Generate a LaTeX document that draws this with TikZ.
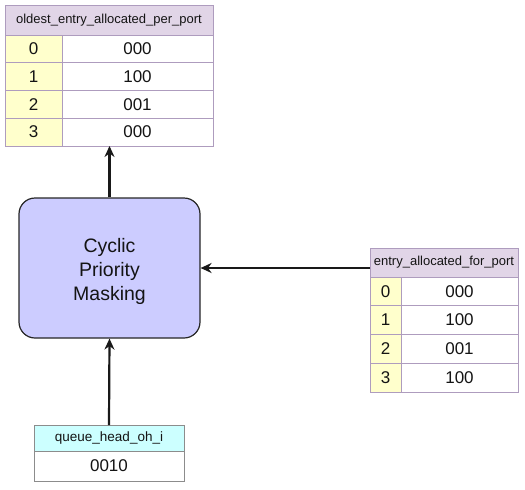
\documentclass[tikz,border=0pt]{standalone}
\usepackage{fontspec}
\setmainfont{Liberation Sans}
\usetikzlibrary{arrows.meta}
\definecolor{hdrpurple}{HTML}{E1D5E7}
\definecolor{brdpurple}{HTML}{AE9CBE}
\definecolor{idxyellow}{HTML}{FFFFCC}
\definecolor{hdrcyan}{HTML}{CCFFFF}
\definecolor{brdgrey}{HTML}{8C8C8C}
\definecolor{boxblue}{HTML}{CCCCFF}
\definecolor{txt}{HTML}{141414}
\begin{document}
\begin{tikzpicture}[x=1pt,y=-1pt,
  cellbase/.style={inner sep=0pt, outer sep=0pt, anchor=north west, text=txt, line width=1pt},
  hdr/.style={cellbase, draw=brdpurple, fill=hdrpurple, font=\fontsize{13}{15}\selectfont},
  idx/.style={cellbase, draw=brdpurple, fill=idxyellow, font=\fontsize{17}{20}\selectfont},
  val/.style={cellbase, draw=brdpurple, fill=white, font=\fontsize{17}{20}\selectfont},
  qhdr/.style={cellbase, draw=brdgrey, fill=hdrcyan, font=\fontsize{13.5}{15}\selectfont},
  qval/.style={cellbase, draw=brdgrey, fill=white, font=\fontsize{17}{20}\selectfont},
  procbox/.style={draw=black!85, fill=boxblue, line width=1.2pt, rounded corners=16pt, align=center, text=txt, font=\fontsize{19.5}{24}\selectfont, inner sep=0pt},
  arr/.style={line width=2.2pt, draw=black!90, -{Stealth[length=11pt,width=10pt]}}
]
\useasboundingbox (0,0) rectangle (525,490);
% top table
\node[hdr, minimum width=208pt, minimum height=30pt] (t1h) at (5,5) {oldest\_entry\_allocated\_per\_port};
\foreach \i/\v in {0/000,1/100,2/001,3/000}{
  \node[idx, minimum width=57pt, minimum height=27.75pt] (t1i\i) at (5,{35+27.75*\i}) {\i};
  \node[val, minimum width=151pt, minimum height=27.75pt] (t1v\i) at (62,{35+27.75*\i}) {\v};
}
% right table
\node[hdr, minimum width=148pt, minimum height=29pt] (t2h) at (370,248) {entry\_allocated\_for\_port};
\foreach \i/\v in {0/000,1/100,2/001,3/100}{
  \node[idx, minimum width=31pt, minimum height=28.75pt] (t2i\i) at (370,{277+28.75*\i}) {\i};
  \node[val, minimum width=117pt, minimum height=28.75pt] (t2v\i) at (401,{277+28.75*\i}) {\v};
}
% bottom table
\node[qhdr, minimum width=150pt, minimum height=26pt] (t3h) at (34,425) {queue\_head\_oh\_i};
\node[qval, minimum width=150pt, minimum height=30pt] (t3v) at (34,451) {0010};
% process box
\node[procbox, minimum width=181pt, minimum height=140pt] (box) at (109.5,268) {};
\node[align=center, text=txt, font=\fontsize{19.5}{24}\selectfont, inner sep=0pt] (boxtext) at ([yshift=-3pt]box.center) {Cyclic\\Priority\\Masking};
% connectors
\draw[arr] (box.north) -- (box.north |- t1i3.south);
\draw[arr] (t2h.west |- box.east) -- (box.east);
\draw[arr] (t3h.north) -- (box.south);
\end{tikzpicture}
\end{document}
